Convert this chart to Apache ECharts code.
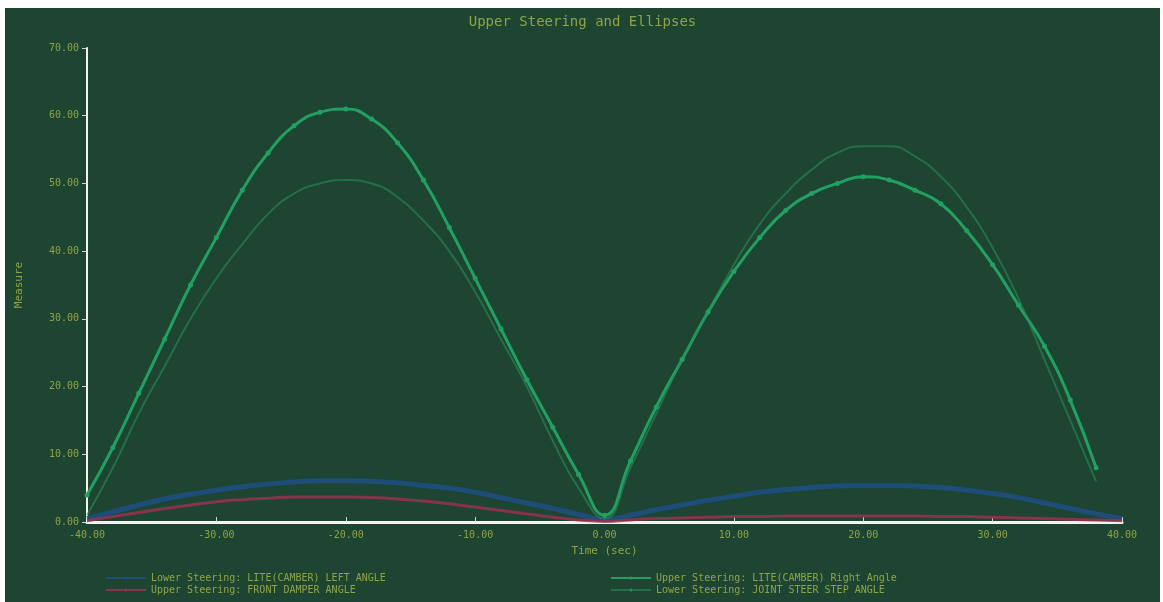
<!DOCTYPE html>
<html>
<head>
<meta charset="utf-8">
<script src="https://cdn.jsdelivr.net/npm/echarts@6/dist/echarts.min.js"></script>
<style>
  html, body { margin: 0; padding: 0; background: #ffffff; }
  #chart { position: absolute; left: 5px; top: 8px; width: 1155px; height: 594px; }
</style>
</head>
<body>
<div id="chart"></div>
<script>
// Sample times (sec)
const times = [-40, -38, -36, -34, -32, -30, -28, -26, -24, -22, -20, -18, -16, -14, -12, -10, -8, -6, -4, -2,
               0, 2, 4, 6, 8, 10, 12, 14, 16, 18, 20, 22, 24, 26, 28, 30, 32, 34, 36, 38, 40];

// Upper steering, right camber angle
const upperRight = [4, 11, 19, 27, 35, 42, 49, 54.5, 58.5, 60.5, 61, 59.5, 56, 50.5, 43.5, 36, 28.5, 21, 14, 7,
                    1, 9, 17, 24, 31, 37, 42, 46, 48.5, 50, 51, 50.5, 49, 47, 43, 38, 32, 26, 18, 8, null];

// Lower steering, joint steer step angle
const lowerJoint = [1, 8, 16, 23, 30, 36, 41, 45.5, 48.5, 50, 50.5, 50, 48, 44.5, 40, 34, 27, 20, 12, 5,
                    0.5, 8, 16, 24, 31, 38, 44, 48.5, 52, 54.5, 55.5, 55.5, 54, 51, 46.5, 40.5, 33, 24, 15, 6, null];

// Lower steering, left camber angle
const lowerLeft = [0.5, 1.5, 2.5, 3.4, 4.1, 4.7, 5.2, 5.6, 5.9, 6.1, 6.1, 6, 5.8, 5.4, 5, 4.4, 3.6, 2.8, 2, 1.1,
                   0.3, 1, 1.8, 2.5, 3.2, 3.8, 4.4, 4.8, 5.1, 5.3, 5.4, 5.4, 5.3, 5.1, 4.7, 4.2, 3.6, 2.8, 2, 1.2, 0.5];

// Upper steering, front damper angle
const upperDamper = [0.2, 0.8, 1.4, 2, 2.5, 3, 3.3, 3.5, 3.7, 3.7, 3.7, 3.6, 3.4, 3.1, 2.7, 2.2, 1.7, 1.2, 0.7, 0.3,
                     0.1, 0.3, 0.5, 0.6, 0.7, 0.8, 0.8, 0.9, 0.9, 0.9, 0.9, 0.9, 0.9, 0.8, 0.8, 0.7, 0.6, 0.5, 0.4, 0.3, 0.2];

const seriesNames = [
  'Lower Steering: LITE(CAMBER) LEFT ANGLE',
  'Upper Steering: FRONT DAMPER ANGLE',
  'Upper Steering: LITE(CAMBER) Right Angle',
  'Lower Steering: JOINT STEER STEP ANGLE'
];

const pairs = arr => times.map((t, i) => [t, arr[i]]);

const textColor = '#8fa447';
const font = '"DejaVu Sans Mono", "Liberation Mono", monospace';

const chart = echarts.init(document.getElementById('chart'), null, { renderer: 'canvas' });
chart.setOption({
  backgroundColor: '#1d4531',
  animation: false,
  title: {
    text: 'Upper Steering and Ellipses',
    left: 'center',
    top: 2,
    textStyle: { color: textColor, fontSize: 14, fontWeight: 'normal', fontFamily: font }
  },
  legend: [
    {
      data: [seriesNames[0], seriesNames[1]],
      orient: 'vertical',
      left: 95,
      top: 560,
      itemGap: 2,
      itemWidth: 40,
      itemHeight: 4,
      textStyle: { color: textColor, fontSize: 10, fontFamily: font }
    },
    {
      data: [seriesNames[2], seriesNames[3]],
      orient: 'vertical',
      left: 600,
      top: 560,
      itemGap: 2,
      itemWidth: 40,
      itemHeight: 4,
      textStyle: { color: textColor, fontSize: 10, fontFamily: font }
    }
  ],
  grid: { left: 82, right: 38, top: 40, bottom: 80 },
  xAxis: {
    type: 'value',
    min: -40,
    max: 40,
    interval: 10,
    name: 'Time (sec)',
    nameLocation: 'middle',
    nameGap: 24,
    nameTextStyle: { color: textColor, fontSize: 11, fontFamily: font },
    axisLine: { onZero: false, lineStyle: { color: '#f2f5ee', width: 3 } },
    axisTick: { show: true, inside: true, length: 5, lineStyle: { color: '#cfd8cc' } },
    axisLabel: { color: textColor, fontSize: 10, fontFamily: font, formatter: v => v.toFixed(2) },
    splitLine: { show: false }
  },
  yAxis: {
    type: 'value',
    min: 0,
    max: 70,
    interval: 10,
    name: 'Measure',
    nameLocation: 'middle',
    nameGap: 62,
    nameTextStyle: { color: textColor, fontSize: 11, fontFamily: font },
    axisLine: { show: true, onZero: false, lineStyle: { color: '#f2f5ee', width: 2 } },
    axisTick: { show: true, length: 5, lineStyle: { color: '#cfd8cc' } },
    axisLabel: { color: textColor, fontSize: 10, fontFamily: font, formatter: v => v.toFixed(2) },
    splitLine: { show: false }
  },
  series: [
    {
      name: seriesNames[0],
      type: 'line',
      smooth: true,
      data: pairs(lowerLeft),
      symbol: 'none',
      lineStyle: { color: '#1f4f86', width: 5, opacity: 0.85 },
      itemStyle: { color: '#1f4f86' }
    },
    {
      name: seriesNames[1],
      type: 'line',
      smooth: true,
      data: pairs(upperDamper),
      symbol: 'none',
      lineStyle: { color: '#9a3052', width: 3, opacity: 0.85 },
      itemStyle: { color: '#9a3052' }
    },
    {
      name: seriesNames[2],
      type: 'line',
      smooth: true,
      data: pairs(upperRight),
      symbol: 'circle',
      symbolSize: 5,
      lineStyle: { color: '#22a064', width: 3 },
      itemStyle: { color: '#22a064' }
    },
    {
      name: seriesNames[3],
      type: 'line',
      smooth: true,
      data: pairs(lowerJoint),
      symbol: 'none',
      lineStyle: { color: '#2b8a5c', width: 2, opacity: 0.6 },
      itemStyle: { color: '#2b8a5c' }
    }
  ]
});
</script>
</body>
</html>
